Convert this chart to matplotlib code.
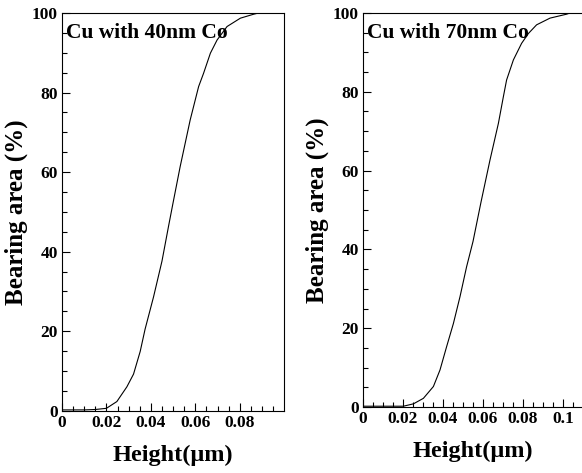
import matplotlib
matplotlib.use("Agg")
import matplotlib.pyplot as plt
from matplotlib.ticker import MultipleLocator, FixedLocator

# Data
h40 = [0.0, 0.010, 0.015, 0.020, 0.0247, 0.0292, 0.0322, 0.0352, 0.0374, 0.0412, 0.045,
       0.048, 0.0499, 0.0532, 0.0577, 0.0615, 0.0637, 0.0668, 0.0698, 0.0743, 0.0803,
       0.0863, 0.0885, 0.0998]
a40 = [0.2, 0.2, 0.3, 0.6, 2.3, 6.0, 9.2, 14.9, 20.5, 28.6, 37.6,
       46.5, 52.0, 61.4, 73.1, 81.5, 84.8, 89.9, 93.2, 96.6, 98.7,
       99.7, 100.0, 100.0]

h70 = [0.0, 0.012, 0.0202, 0.0252, 0.0302, 0.0352, 0.0385, 0.0418, 0.0452, 0.0485, 0.0518,
       0.0550, 0.0570, 0.0590, 0.0635, 0.0677, 0.0702, 0.0718, 0.0752, 0.0793, 0.0827,
       0.0868, 0.0935, 0.1018, 0.1035, 0.11]
a70 = [0.2, 0.2, 0.2, 0.8, 2.2, 5.2, 9.4, 15.3, 21.2, 28.0, 35.6,
       42.0, 47.0, 52.0, 62.7, 72.0, 78.8, 83.0, 88.1, 92.3, 94.8,
       97.0, 98.7, 99.7, 100.0, 100.0]

titles = ["Cu with 40nm Co", "Cu with 70nm Co"]
xlims = [(0, 0.0998), (0, 0.11)]
xticklabels = [["0", "0.02", "0.04", "0.06", "0.08"],
               ["0", "0.02", "0.04", "0.06", "0.08", "0.1"]]
xtickvals = [[0, 0.02, 0.04, 0.06, 0.08], [0, 0.02, 0.04, 0.06, 0.08, 0.1]]

serif = ["Liberation Serif", "DejaVu Serif"]

fig = plt.figure(figsize=(5.82, 4.73), dpi=100)
W, H = 582, 473
boxes = [(62, 13, 283.7, 410.7), (363, 13, 583, 407)]

for i, (hx, ay) in enumerate([(h40, a40), (h70, a70)]):
    l, t, r, b = boxes[i]
    ax = fig.add_axes([l / W, 1 - b / H, (r - l) / W, (b - t) / H])
    ax.plot(hx, ay, color="black", lw=0.8)
    ax.set_xlim(*xlims[i])
    ax.set_ylim(0, 100)
    ax.xaxis.set_major_locator(FixedLocator(xtickvals[i]))
    ax.set_xticklabels(xticklabels[i])
    ax.xaxis.set_minor_locator(MultipleLocator(0.005))
    ax.yaxis.set_major_locator(MultipleLocator(20))
    ax.yaxis.set_minor_locator(MultipleLocator(5))
    ax.tick_params(which="both", direction="in", top=False, right=False, width=0.8)
    ax.tick_params(which="major", length=6, pad=3)
    ax.tick_params(which="minor", length=3.5)
    for lab in ax.get_xticklabels() + ax.get_yticklabels():
        lab.set_fontfamily(serif)
        lab.set_fontweight("bold")
        lab.set_fontsize(12.5)
    for s in ax.spines.values():
        s.set_linewidth(0.8)
    if i == 1:
        ax.spines["right"].set_visible(False)
    ax.set_xlabel("Height(\u03bcm)", fontfamily=serif, fontweight="bold", fontsize=17.5, labelpad=10)
    ax.set_ylabel("Bearing area (%)", fontfamily=serif, fontweight="bold", fontsize=18, labelpad=3)
    ax.text(0.02, 0.95, titles[i], transform=ax.transAxes, ha="left", va="center",
            fontfamily=serif, fontweight="bold", fontsize=15.5)

fig.savefig("out.png", dpi=100)
